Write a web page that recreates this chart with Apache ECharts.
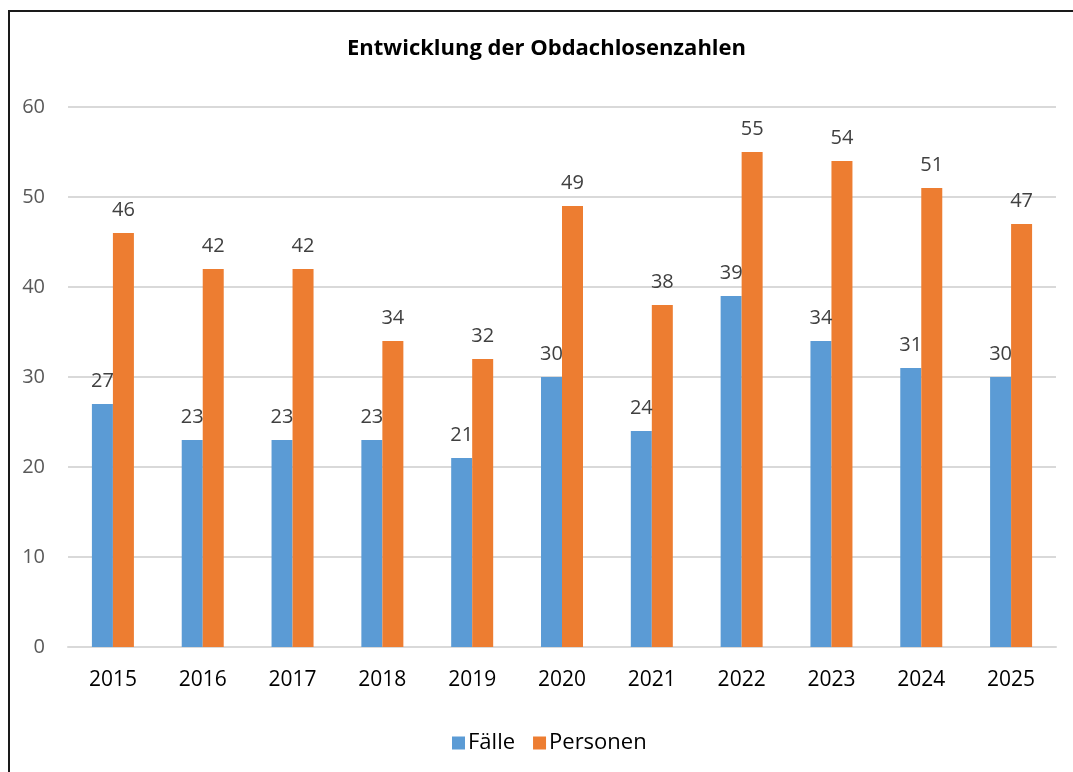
<!DOCTYPE html>
<html lang="de">
<head>
  <meta charset="UTF-8">
  <title>Entwicklung der Obdachlosenzahlen</title>
  <style>
    html, body { margin: 0; padding: 0; background: #fff; }
    #chart { width: 1073px; height: 772px; }
  </style>
</head>
<body>
  <div id="chart"></div>

  <script src="https://cdn.jsdelivr.net/npm/echarts@6/dist/echarts.min.js"></script>
  <script>
    // chart data
    var years = ['2015', '2016', '2017', '2018', '2019', '2020', '2021', '2022', '2023', '2024', '2025'];
    var faelle = [27, 23, 23, 23, 21, 30, 24, 39, 34, 31, 30];
    var personen = [46, 42, 42, 34, 32, 49, 38, 55, 54, 51, 47];
    var yTicks = [0, 10, 20, 30, 40, 50, 60];

    var font = '"Open Sans", Lato, sans-serif';

    var myChart = echarts.init(document.getElementById('chart'));

    var labelStyle = {
      show: true,
      position: 'top',
      distance: 13,
      color: '#404040',
      fontSize: 20,
      fontFamily: font
    };

    var option = {
      animation: false,
      textStyle: { fontFamily: font },
      title: {
        text: 'Entwicklung der Obdachlosenzahlen',
        left: 342,
        top: 33,
        textStyle: {
          fontSize: 22,
          fontWeight: 'bold',
          color: '#000',
          fontFamily: font
        }
      },
      // outer frame of the chart box
      graphic: [{
        type: 'rect',
        shape: { x: 9, y: 11, width: 1200, height: 900 },
        style: { fill: 'none', stroke: '#1a1a1a', lineWidth: 2 },
        silent: true
      }],
      legend: {
        bottom: 13,
        left: 447,
        itemWidth: 13,
        itemHeight: 13,
        itemGap: 18,
        icon: 'rect',
        textStyle: { fontSize: 22, color: '#000', fontFamily: font, padding: [0, 0, 0, -2] }
      },
      grid: {
        left: 68,
        right: 17,
        top: 107,
        bottom: 125
      },
      xAxis: {
        type: 'category',
        data: years,
        axisTick: { show: false },
        axisLine: { lineStyle: { color: '#d9d9d9', width: 2 } },
        axisLabel: { color: '#000', fontSize: 21, margin: 23, fontFamily: font }
      },
      yAxis: {
        type: 'value',
        min: yTicks[0],
        max: yTicks[yTicks.length - 1],
        interval: 10,
        axisLine: { show: false },
        axisTick: { show: false },
        splitLine: { lineStyle: { color: '#d9d9d9', width: 2 } },
        axisLabel: { color: '#595959', fontSize: 20, margin: 23, fontFamily: font }
      },
      series: [
        {
          name: 'Fälle',
          type: 'bar',
          data: faelle,
          barWidth: 21,
          barGap: '0%',
          itemStyle: { color: '#5b9bd5' },
          label: labelStyle
        },
        {
          name: 'Personen',
          type: 'bar',
          data: personen,
          barWidth: 21,
          barGap: '0%',
          itemStyle: { color: '#ed7d31' },
          label: labelStyle
        }
      ]
    };

    myChart.setOption(option);
  </script>
</body>
</html>
